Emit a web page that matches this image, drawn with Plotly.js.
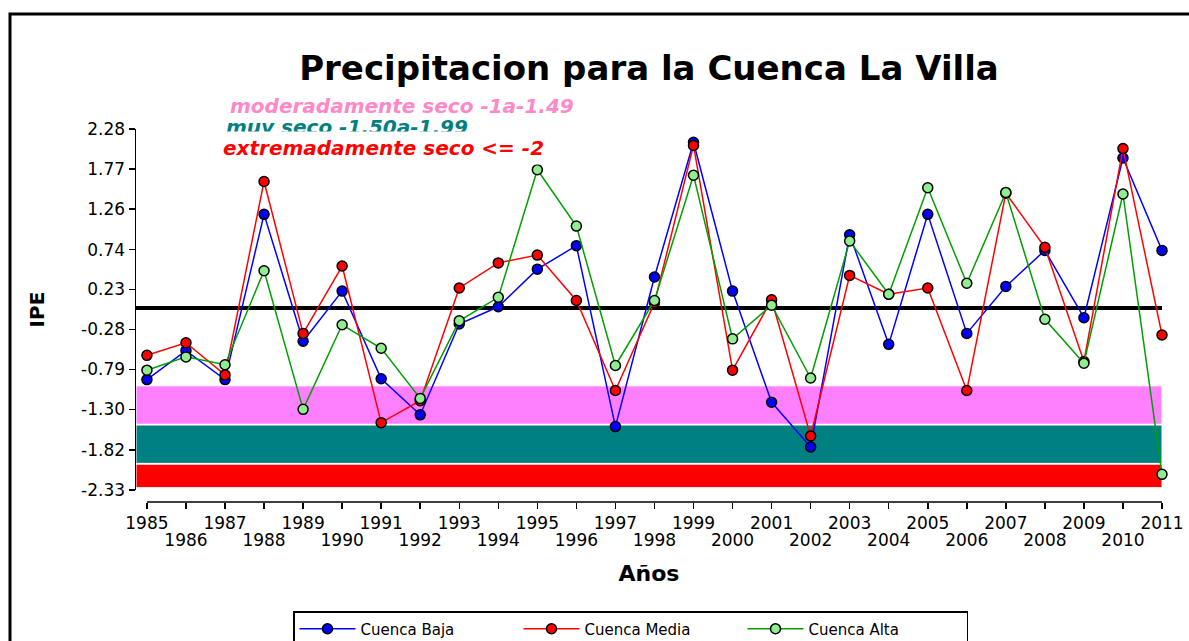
<!DOCTYPE html>
<html>
<head>
<meta charset="utf-8">
<script src="https://cdn.plot.ly/plotly-3.0.1.min.js"></script>
<style>html,body{margin:0;padding:0;background:#fff;}#chart{width:1189px;height:641px;}</style>
</head>
<body>
<div id="chart"></div>
<script>
const years = [1985,1986,1987,1988,1989,1990,1991,1992,1993,1994,1995,1996,1997,1998,1999,2000,2001,2002,2003,2004,2005,2006,2007,2008,2009,2010,2011];
const cuencaBaja  = [-0.92,-0.55,-0.92,1.19,-0.43,0.21,-0.91,-1.37,-0.21,0.01,0.49,0.79,-1.52,0.39,2.11,0.21,-1.21,-1.78,0.93,-0.47,1.19,-0.33,0.27,0.73,-0.13,1.91,0.73];
const cuencaMedia = [-0.61,-0.45,-0.86,1.61,-0.33,0.53,-1.47,-1.19,0.25,0.57,0.67,0.09,-1.06,0.06,2.07,-0.80,0.10,-1.64,0.41,0.17,0.25,-1.06,1.46,0.77,-0.69,2.03,-0.35];
const cuencaAlta  = [-0.80,-0.63,-0.73,0.47,-1.30,-0.22,-0.52,-1.16,-0.17,0.13,1.76,1.04,-0.74,0.09,1.69,-0.40,0.03,-0.90,0.85,0.17,1.53,0.31,1.47,-0.15,-0.71,1.45,-2.13];
const yTickVals = [2.28,1.77,1.26,0.74,0.23,-0.28,-0.79,-1.30,-1.82,-2.33];
const yTickText = ['2.28','1.77','1.26','0.74','0.23','-0.28','-0.79','-1.30','-1.82','-2.33'];
const bandLimits = {moderado:[-1.49,-1.0], muy:[-1.99,-1.50], extremo:[-2.30,-2.0]};
const bandLabels = ['moderadamente seco -1a-1.49','muy seco -1.50a-1.99','extremadamente seco <= -2'];

const oddYears = years.filter(y => y % 2 === 1);
const evenYears = years.filter(y => y % 2 === 0);

const W = 1189, H = 641;
const L = 136, R = 27, T = 129, B = 139;
const pw = W - L - R, ph = H - T - B;
const px = x => (x - L) / pw;
const py = y => (H - B - y) / ph;

const mk = (name, y, lc, fc) => ({
  x: years, y: y, name: name, type: 'scatter', mode: 'lines+markers',
  line: {color: lc, width: 1.5},
  marker: {color: fc, size: 10, line: {color: 'black', width: 1.5}},
  cliponaxis: false
});

const data = [
  mk('Cuenca Baja', cuencaBaja, '#0000ff', '#0000ff'),
  mk('Cuenca Media', cuencaMedia, '#ff0000', '#ff0000'),
  mk('Cuenca Alta', cuencaAlta, '#00a000', '#90ee90'),
  {x: evenYears, y: evenYears.map(() => null), xaxis: 'x2', yaxis: 'y', type: 'scatter', mode: 'markers', showlegend: false, hoverinfo: 'skip'}
];

const xr = [1984.72, 2011];
const tickFont = {family: 'DejaVu Sans', size: 17, color: 'black'};

const layout = {
  width: W, height: H,
  margin: {l: L, r: R, t: T, b: B, autoexpand: false},
  paper_bgcolor: 'white', plot_bgcolor: 'white',
  font: {family: 'DejaVu Sans', color: 'black'},
  showlegend: true,
  title: {
    text: 'Precipitacion para la Cuenca La Villa',
    font: {family: 'DejaVu Sans', size: 34, weight: 'bold', color: 'black'},
    xref: 'paper', x: 0.5, xanchor: 'center',
    yref: 'container', y: 1 - 68 / H, yanchor: 'middle'
  },
  xaxis: {
    range: xr, anchor: 'free', position: 0,
    showline: false, showgrid: false, zeroline: false,
    tickmode: 'array', tickvals: years, ticktext: years.map(y => (y % 2 ? String(y) : '')),
    ticks: 'outside', ticklen: 6, tickwidth: 1.5, tickcolor: 'black',
    ticklabelstandoff: 0,
    tickfont: tickFont,
    title: {text: 'Años', font: {family: 'DejaVu Sans', size: 22, weight: 'bold', color: 'black'}, standoff: 33}
  },
  xaxis2: {
    range: xr, overlaying: 'x', anchor: 'free', position: 0, side: 'bottom',
    showline: false, showgrid: false, zeroline: false,
    tickmode: 'array', tickvals: evenYears, ticktext: evenYears.map(String),
    ticks: 'outside', ticklen: 6, tickcolor: 'rgba(0,0,0,0)',
    ticklabelstandoff: 17,
    tickfont: tickFont
  },
  yaxis: {
    domain: [12 / ph, 1], range: [-2.33, 2.28],
    tickmode: 'array', tickvals: yTickVals, ticktext: yTickText,
    ticks: 'outside', ticklen: 6, tickwidth: 1.5, tickcolor: 'black',
    showline: true, linewidth: 1.5, linecolor: 'black',
    showgrid: false,
    zeroline: true, zerolinewidth: 4, zerolinecolor: 'black',
    tickfont: tickFont,
    title: {text: 'IPE', font: {family: 'DejaVu Sans', size: 20, weight: 'bold', color: 'black'}, standoff: 31}
  },
  legend: {
    orientation: 'h', x: px(293), xanchor: 'left', y: py(611), yanchor: 'top',
    bordercolor: 'black', borderwidth: 1.5, bgcolor: 'white',
    font: {family: 'DejaVu Sans', size: 15, color: 'black'},
    entrywidthmode: 'pixels', entrywidth: 153, itemwidth: 56
  },
  shapes: [
    {type: 'rect', xref: 'paper', yref: 'y', x0: 0, x1: 1, y0: bandLimits.moderado[0], y1: bandLimits.moderado[1], fillcolor: '#ff80ff', line: {color: 'white', width: 1}, layer: 'below'},
    {type: 'rect', xref: 'paper', yref: 'y', x0: 0, x1: 1, y0: bandLimits.muy[0], y1: bandLimits.muy[1], fillcolor: '#008080', line: {color: 'white', width: 1}, layer: 'below'},
    {type: 'rect', xref: 'paper', yref: 'y', x0: 0, x1: 1, y0: bandLimits.extremo[0], y1: bandLimits.extremo[1], fillcolor: '#ff0000', line: {color: 'white', width: 1}, layer: 'below'},
    {type: 'line', xref: 'x', yref: 'paper', x0: 1985, x1: 2011, y0: 0, y1: 0, line: {color: 'black', width: 1.5}},
    {type: 'rect', xref: 'paper', yref: 'paper', x0: px(10), x1: px(1200), y0: py(660), y1: py(14), line: {color: 'black', width: 3}, fillcolor: 'rgba(0,0,0,0)'}
  ],
  annotations: [
    {text: bandLabels[0], xref: 'paper', yref: 'paper', x: px(228), y: py(106), xanchor: 'left', yanchor: 'middle', showarrow: false,
     font: {family: 'DejaVu Sans', size: 20, weight: 'bold', style: 'italic', color: '#ff88c8'}},
    {text: bandLabels[1], xref: 'paper', yref: 'paper', x: px(224), y: py(127), xanchor: 'left', yanchor: 'middle', showarrow: false,
     font: {family: 'DejaVu Sans', size: 20, weight: 'bold', style: 'italic', color: '#008080'}},
    {text: bandLabels[2], xref: 'paper', yref: 'paper', x: px(218), y: py(148), xanchor: 'left', yanchor: 'middle', showarrow: false,
     bgcolor: 'white', borderpad: 4,
     font: {family: 'DejaVu Sans', size: 20, weight: 'bold', style: 'italic', color: '#ff0000'}}
  ]
};

Plotly.newPlot('chart', data, layout, {displayModeBar: false, staticPlot: true});
</script>
</body>
</html>
